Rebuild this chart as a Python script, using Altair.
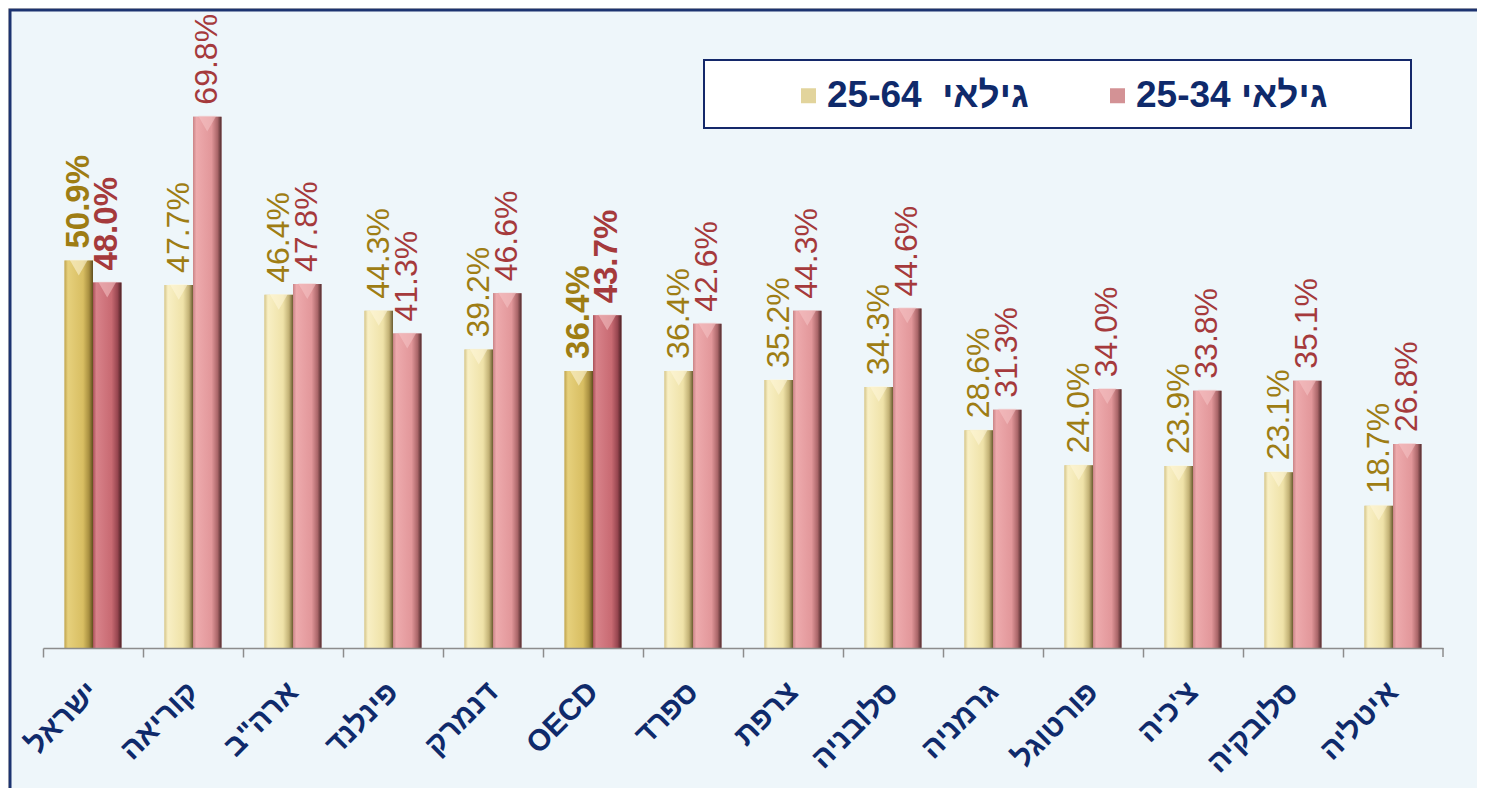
import altair as alt
import pandas as pd

categories = ["ישראל", "קוריאה", "ארה\"ב", "פינלנד", "דנמרק", "OECD", "ספרד",
              "צרפת", "סלובניה", "גרמניה", "פורטוגל", "צ'כיה", "סלובקיה", "איטליה"]
age_25_64 = [50.9, 47.7, 46.4, 44.3, 39.2, 36.4, 36.4, 35.2, 34.3, 28.6, 24.0, 23.9, 23.1, 18.7]
age_25_34 = [48.0, 69.8, 47.8, 41.3, 46.6, 43.7, 42.6, 44.3, 44.6, 31.3, 34.0, 33.8, 35.1, 26.8]
highlighted = ["ישראל", "OECD"]

S1 = "גילאי\u00a0\u00a025-64"
S2 = "גילאי\u00a025-34"
series_order = [S1, S2]

rows = []
for c, a, b in zip(categories, age_25_64, age_25_34):
    hl = c in highlighted
    rows.append({"country": c, "series": S1, "value": a, "hl": hl})
    rows.append({"country": c, "series": S2, "value": b, "hl": hl})
df = pd.DataFrame(rows)
df["label"] = df["value"].map(lambda v: f"{v:.1f}%")

NAVY = "#0F2A6B"
FONT = "Liberation Sans"
AXIS_GRAY = "#8C8C8C"

x_enc = alt.X("country:N", sort=categories, title=None,
              scale=alt.Scale(paddingInner=0.43, paddingOuter=0.215),
              axis=alt.Axis(labelAngle=-45, labelAlign="right", labelBaseline="middle",
                            labelFontSize=30, labelFontWeight="bold", labelColor=NAVY,
                            labelFont=FONT, labelPadding=30, tickOffset=-50, labelOffset=50,
                            tickSize=9, tickColor=AXIS_GRAY, domainColor=AXIS_GRAY,
                            domainWidth=1.5, tickWidth=1.5, labelLimit=300, zindex=2))
xo_enc = alt.XOffset("series:N", sort=series_order,
                     scale=alt.Scale(paddingInner=0, paddingOuter=0))
y_enc = alt.Y("value:Q", scale=alt.Scale(domain=[0, 80]), axis=None)

base = alt.Chart(df)

frame = alt.Chart(alt.Data(values=[{}])).mark_rect(
    fill="#EEF6FA", stroke="#1C3370", strokeWidth=3
).encode(x=alt.value(-33), x2=alt.value(1460), y=alt.value(-29), y2=alt.value(800))

legend_box = alt.Chart(alt.Data(values=[{}])).mark_rect(
    fill="white", stroke="#14286A", strokeWidth=2
).encode(x=alt.value(661), x2=alt.value(1368), y=alt.value(21), y2=alt.value(89))

end_tick = alt.Chart(alt.Data(values=[{}])).mark_rule(
    color=AXIS_GRAY, strokeWidth=1.5
).encode(x=alt.value(1400), y=alt.value(609), y2=alt.value(618))

legend_bars = base.mark_bar().encode(
    x=x_enc, xOffset=xo_enc, y=y_enc,
    color=alt.Color("series:N", sort=series_order,
                    scale=alt.Scale(domain=series_order, range=["#E2D49C", "#D39295"]),
                    legend=alt.Legend(orient="none", legendX=747, legendY=38,
                                      direction="horizontal", title=None,
                                      labelFontSize=37, labelFont=FONT,
                                      labelFontWeight="bold", labelColor=NAVY,
                                      symbolType="square", symbolSize=225,
                                      symbolStrokeWidth=0, labelOffset=0,
                                      columnPadding=70, labelLimit=400,
                                      padding=0, zindex=3))
)


def grad(stops):
    return alt.LinearGradient(gradient="linear", x1=0, x2=1, y1=0, y2=0,
                              stops=[alt.GradientStop(offset=o, color=c) for o, c in stops])


grads = {
    (S1, False): grad([(0, "#D6C68A"), (0.12, "#F8EFC4"), (0.65, "#EFE2A8"), (0.86, "#C2B175"), (1, "#6A5C30")]),
    (S2, False): grad([(0, "#C98487"), (0.12, "#EDAAAD"), (0.65, "#E2979A"), (0.86, "#AA6669"), (1, "#4E2A2C")]),
    (S1, True): grad([(0, "#BFA450"), (0.12, "#E6D07C"), (0.65, "#D8BE62"), (0.86, "#A88F40"), (1, "#5F4E1E")]),
    (S2, True): grad([(0, "#A85058"), (0.12, "#D8828A"), (0.65, "#C86A72"), (0.86, "#974650"), (1, "#4A2024")]),
}
cap_colors = {S1: "#FFF8DC", S2: "#F6C4C6"}
label_colors = {S1: "#9E7D14", S2: "#A53A3C"}

layers = [frame, legend_box, end_tick, legend_bars]
for (s, hl), g in grads.items():
    flt = (alt.datum.series == s) & (alt.datum.hl == hl)
    layers.append(
        base.transform_filter(flt).mark_bar(fill=g, stroke=None).encode(
            x=x_enc, xOffset=xo_enc, y=y_enc)
    )
for s in series_order:
    layers.append(
        base.transform_filter(alt.datum.series == s).mark_point(
            shape="triangle-down", filled=True, size=330, yOffset=7,
            color=cap_colors[s], opacity=0.55
        ).encode(x=x_enc, xOffset=xo_enc, y=y_enc)
    )
for (s, hl) in grads.keys():
    flt = (alt.datum.series == s) & (alt.datum.hl == hl)
    layers.append(
        base.transform_filter(flt).mark_text(
            angle=270, align="left", baseline="middle", dx=12,
            fontSize=33 if hl else 32, font=FONT, fontWeight="bold" if hl else "normal",
            color=label_colors[s]
        ).encode(x=x_enc, xOffset=xo_enc, y=y_enc, text="label:N")
    )

chart = alt.layer(*layers).properties(
    width=1400, height=609,
    padding={"left": 35, "top": 31, "right": 34, "bottom": 140},
    autosize=alt.AutoSizeParams(type="none"),
    background="#FBF1DA",
).configure_view(stroke=None)

chart.save("out.html", embed_options={"renderer": "svg", "actions": False})
